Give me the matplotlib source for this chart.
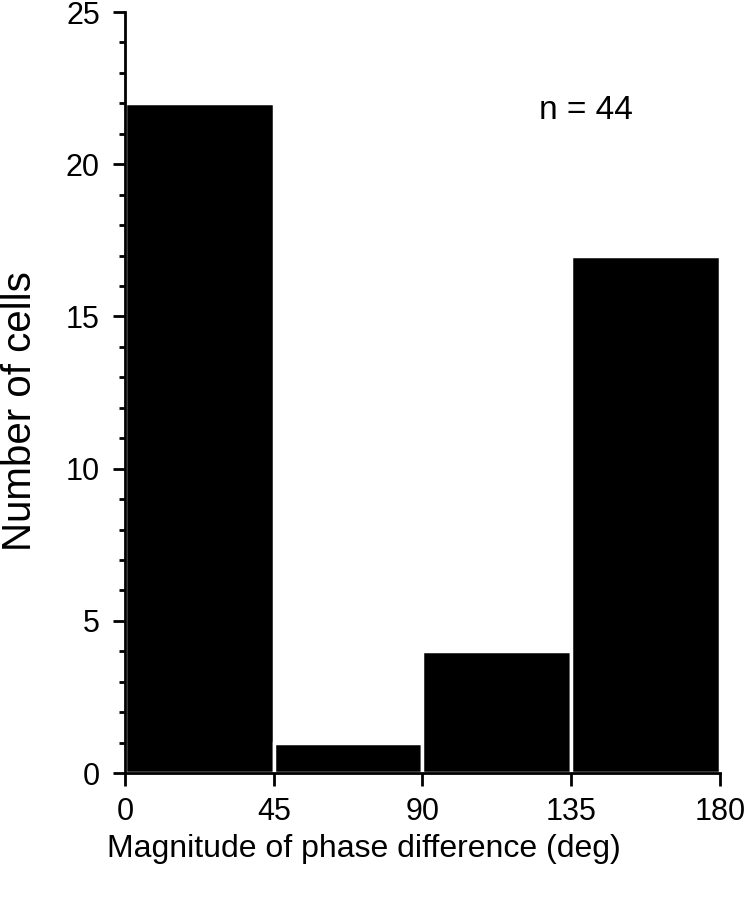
import matplotlib
matplotlib.use("Agg")
import matplotlib.pyplot as plt
from matplotlib.ticker import MultipleLocator

plt.rcParams['font.family'] = ['Liberation Sans', 'DejaVu Sans']

bin_left = [0, 45, 90, 135]
counts = [22, 1, 4, 17]
bin_width = 45
x_ticks = [0, 45, 90, 135, 180]

fig = plt.figure(figsize=(7.51, 8.99), dpi=100)
ax = fig.add_axes([0.1664, 0.140, 0.7923, 0.8466])

ax.bar(bin_left, counts, width=bin_width, align='edge', color='black',
       edgecolor='white', linewidth=2.5)

ax.set_xlim(0, 180)
ax.set_ylim(0, 25)
ax.set_xticks(x_ticks)
ax.yaxis.set_major_locator(MultipleLocator(5))
ax.yaxis.set_minor_locator(MultipleLocator(1))

for s in ['top', 'right']:
    ax.spines[s].set_visible(False)
for s in ['left', 'bottom']:
    ax.spines[s].set_linewidth(2)

ax.tick_params(axis='both', which='major', length=9, width=2,
               labelsize=22, direction='out')
ax.tick_params(axis='x', which='major', pad=8)
ax.tick_params(axis='y', which='major', pad=9)
ax.tick_params(axis='y', which='minor', length=4.5, width=2)

ax.set_xlabel('Magnitude of phase difference (deg)', fontsize=23, va='center')
ax.xaxis.set_label_coords(0.402, -0.1)
ax.set_ylabel('Number of cells', fontsize=29, va='center')
ax.yaxis.set_label_coords(-0.176, 0.476)

ax.text(0.775, 0.871, 'n = 44', transform=ax.transAxes, fontsize=24,
        ha='center', va='center')

fig.savefig('out.png', dpi=100)
